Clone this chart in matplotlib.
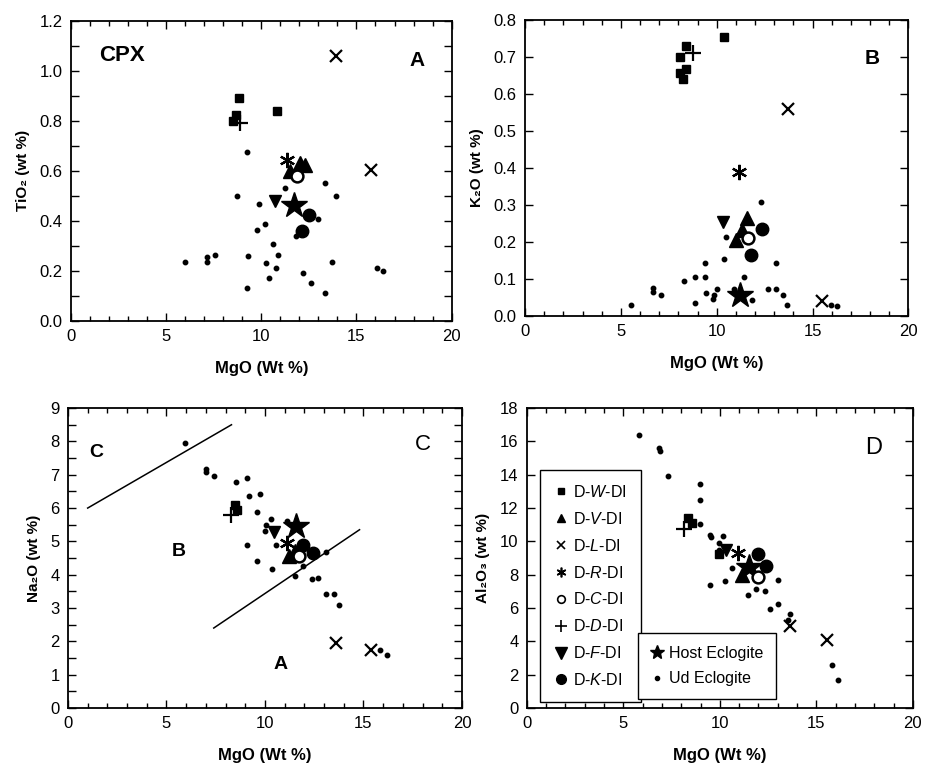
import matplotlib
matplotlib.use('Agg')
import matplotlib.pyplot as plt
from matplotlib.lines import Line2D
from matplotlib.ticker import MultipleLocator

plt.rcParams['font.family'] = ['Liberation Sans', 'DejaVu Sans']
plt.rcParams['mathtext.fontset'] = 'custom'
plt.rcParams['mathtext.rm'] = 'Liberation Sans'
plt.rcParams['mathtext.it'] = 'Liberation Sans:italic'
plt.rcParams['mathtext.bf'] = 'Liberation Sans:bold'

# ---- panel A : TiO2 vs MgO ----
ti_w = [(8.85, 0.89), (10.8, 0.84), (8.65, 0.825), (8.5, 0.80)]
ti_v = [(12.05, 0.63), (12.3, 0.625), (11.5, 0.60)]
ti_l = [(13.9, 1.06), (15.75, 0.605)]
ti_r = [(11.35, 0.645)]
ti_c = [(11.9, 0.58)]
ti_d = [(8.9, 0.79)]
ti_f = [(10.7, 0.48)]
ti_k = [(12.5, 0.425), (12.15, 0.36)]
ti_host = [(11.7, 0.465)]
ti_ud = [(9.27, 0.676), (8.74, 0.50), (9.87, 0.468), (11.26, 0.533), (13.37, 0.553),
         (13.95, 0.50), (12.96, 0.407), (10.2, 0.387), (9.76, 0.362), (11.8, 0.338),
         (10.6, 0.309), (10.87, 0.265), (9.32, 0.259), (10.24, 0.232), (10.78, 0.211),
         (10.43, 0.172), (12.17, 0.19), (12.63, 0.15), (9.27, 0.13), (13.37, 0.109),
         (13.74, 0.236), (5.98, 0.235), (7.12, 0.256), (7.12, 0.235), (7.56, 0.265),
         (16.1, 0.212), (16.41, 0.20)]

# ---- panel B : K2O vs MgO ----
k_w = [(10.4, 0.755), (8.4, 0.73), (8.1, 0.70), (8.4, 0.668), (8.1, 0.657), (8.25, 0.64)]
k_v = [(11.6, 0.265), (11.3, 0.233), (11.0, 0.206)]
k_l = [(13.7, 0.56), (15.5, 0.04)]
k_r = [(11.15, 0.39)]
k_c = [(11.65, 0.21)]
k_d = [(8.75, 0.71)]
k_f = [(10.35, 0.255)]
k_k = [(12.35, 0.235), (11.8, 0.165)]
k_host = [(11.2, 0.056)]
k_ud = [(12.32, 0.307), (10.49, 0.215), (10.4, 0.154), (9.37, 0.143), (8.3, 0.096),
        (8.89, 0.106), (9.37, 0.106), (11.41, 0.106), (13.07, 0.143), (6.67, 0.076),
        (6.67, 0.065), (7.08, 0.056), (5.55, 0.029), (9.46, 0.063), (10.04, 0.074),
        (9.87, 0.056), (9.78, 0.045), (8.85, 0.036), (10.9, 0.074), (11.82, 0.043),
        (12.66, 0.074), (13.07, 0.074), (13.46, 0.056), (13.69, 0.029), (15.95, 0.029),
        (16.27, 0.027)]

# ---- panel C : Na2O vs MgO ----
na_w = [(8.5, 6.1), (8.6, 5.95)]
na_v = [(11.2, 4.57), (11.5, 4.7)]
na_l = [(13.6, 1.95), (15.4, 1.75)]
na_r = [(11.1, 4.96)]
na_c = [(11.75, 4.55)]
na_d = [(8.3, 5.78)]
na_f = [(10.45, 5.28)]
na_k = [(11.95, 4.9), (12.45, 4.65)]
na_host = [(11.6, 5.45)]
na_ud = [(5.95, 7.96), (7.03, 7.16), (7.03, 7.09), (7.42, 6.96), (8.53, 6.79),
         (9.08, 6.9), (9.2, 6.36), (9.75, 6.43), (9.62, 5.89), (10.32, 5.68),
         (10.05, 5.5), (10.0, 5.31), (9.08, 4.89), (9.62, 4.41), (10.37, 4.17),
         (11.53, 3.95), (11.95, 4.27), (12.37, 3.87), (12.7, 3.9), (13.12, 4.67),
         (13.12, 3.41), (13.5, 3.41), (13.75, 3.09), (15.83, 1.75), (16.17, 1.6),
         (11.12, 5.61), (10.58, 4.9)]
# field boundaries (C/B and B/A)
na_line_cb = [(1.0, 6.0), (8.3, 8.5)]
na_line_ba = [(7.4, 2.4), (14.8, 5.35)]

# ---- panel D : Al2O3 vs MgO ----
al_w = [(8.35, 11.4), (8.55, 11.1), (9.95, 9.25)]
al_v = [(11.15, 8.0), (11.5, 8.6)]
al_l = [(13.65, 4.9), (15.55, 4.1)]
al_r = [(10.95, 9.3)]
al_c = [(11.95, 7.85)]
al_d = [(8.15, 10.75)]
al_f = [(10.3, 9.5)]
al_k = [(11.95, 9.25), (12.4, 8.5)]
al_host = [(11.5, 8.45)]
al_ud = [(5.8, 16.36), (6.85, 15.6), (6.9, 15.4), (7.3, 13.92), (8.98, 13.44),
         (8.98, 12.5), (8.98, 11.06), (9.51, 10.4), (9.55, 10.26), (10.14, 10.3),
         (9.97, 9.9), (9.94, 9.5), (9.51, 7.4), (10.28, 7.6), (10.62, 8.4),
         (11.45, 6.8), (11.85, 7.16), (12.36, 7.0), (13.0, 7.66), (12.61, 5.94),
         (13.0, 6.24), (13.64, 5.64), (13.52, 5.3), (15.82, 2.6), (16.14, 1.66)]

keys = ['ud', 'W', 'D', 'F', 'R', 'L', 'V', 'K', 'host', 'C']
legend_labels = {
    'W': r'D-$\mathit{W}$-DI', 'V': r'D-$\mathit{V}$-DI', 'L': r'D-$\mathit{L}$-DI',
    'R': r'D-$\mathit{R}$-DI', 'C': r'D-$\mathit{C}$-DI', 'D': r'D-$\mathit{D}$-DI',
    'F': r'D-$\mathit{F}$-DI', 'K': r'D-$\mathit{K}$-DI',
    'host': 'Host Eclogite', 'ud': 'Ud Eclogite',
}

styles = {
    'W': dict(marker='s', ms=5.5),
    'V': dict(marker='^', ms=10),
    'L': dict(marker='x', ms=9, mew=1.6),
    'R': dict(marker=(6, 2, 0), ms=11, mew=1.6),
    'C': dict(marker='o', ms=8.5, mfc='white', mew=1.8),
    'D': dict(marker='+', ms=11, mew=1.6),
    'F': dict(marker='v', ms=9),
    'K': dict(marker='o', ms=9),
    'host': dict(marker='*', ms=19),
    'ud': dict(marker='o', ms=3.2),
}
leg_sizes = {'W': 4.5, 'V': 6, 'L': 5.5, 'R': 7, 'C': 5.5, 'D': 8, 'F': 9,
             'K': 7, 'host': 10, 'ud': 3}


def draw_series(ax, data):
    for key in keys:
        pts = data[key]
        xs = [p[0] for p in pts]
        ys = [p[1] for p in pts]
        st = dict(styles[key])
        st.setdefault('mfc', 'black')
        ax.plot(xs, ys, linestyle='none', color='black', mec='black', **st)


def style_axes(ax, ymax, ystep, yminor, ylabel, fmt):
    ax.set_xlim(0, 20)
    ax.set_ylim(0, ymax)
    ax.xaxis.set_major_locator(MultipleLocator(5))
    ax.xaxis.set_minor_locator(MultipleLocator(1))
    ax.yaxis.set_major_locator(MultipleLocator(ystep))
    if yminor:
        ax.yaxis.set_minor_locator(MultipleLocator(yminor))
    ax.yaxis.set_major_formatter(plt.FormatStrFormatter(fmt))
    ax.tick_params(which='both', direction='in', top=True, right=True,
                   labelsize=12, width=1.0, pad=6)
    ax.tick_params(which='major', length=6)
    ax.tick_params(axis='x', which='minor', length=3.5)
    ax.tick_params(axis='y', which='minor', length=6)
    for sp in ax.spines.values():
        sp.set_linewidth(1.3)
    ax.set_xlabel('MgO (Wt %)', fontsize=12, fontweight='bold', labelpad=12)
    ax.set_ylabel(ylabel, fontsize=11, fontweight='bold', labelpad=7)


fig = plt.figure(figsize=(9.26, 7.71), dpi=100)
ax_a = fig.add_axes([0.0767, 0.584, 0.411, 0.389])
ax_b = fig.add_axes([0.567, 0.590, 0.414, 0.384])
ax_c = fig.add_axes([0.0734, 0.0817, 0.4255, 0.389])
ax_d = fig.add_axes([0.569, 0.0817, 0.4168, 0.389])

# panel A
draw_series(ax_a, dict(W=ti_w, V=ti_v, L=ti_l, R=ti_r, C=ti_c, D=ti_d, F=ti_f,
                       K=ti_k, host=ti_host, ud=ti_ud))
style_axes(ax_a, 1.2, 0.2, 0.1, 'TiO₂ (wt %)', '%.1f')
ax_a.text(1.5, 1.06, 'CPX', fontsize=16, fontweight='bold', va='center')
ax_a.text(18.2, 1.04, 'A', fontsize=15, fontweight='bold', va='center', ha='center')

# panel B
draw_series(ax_b, dict(W=k_w, V=k_v, L=k_l, R=k_r, C=k_c, D=k_d, F=k_f,
                       K=k_k, host=k_host, ud=k_ud))
style_axes(ax_b, 0.8, 0.1, None, 'K₂O (wt %)', '%.1f')
ax_b.text(18.1, 0.695, 'B', fontsize=15, fontweight='bold', va='center', ha='center')

# panel C
for seg in (na_line_cb, na_line_ba):
    ax_c.plot([p[0] for p in seg], [p[1] for p in seg], color='black', lw=1.1)
draw_series(ax_c, dict(W=na_w, V=na_v, L=na_l, R=na_r, C=na_c, D=na_d, F=na_f,
                       K=na_k, host=na_host, ud=na_ud))
style_axes(ax_c, 9, 1, 0.5, 'Na₂O (wt %)', '%d')
ax_c.text(1.45, 7.66, 'C', fontsize=14, fontweight='bold', va='center', ha='center')
ax_c.text(5.6, 4.7, 'B', fontsize=14, fontweight='bold', va='center', ha='center')
ax_c.text(10.8, 1.3, 'A', fontsize=14, fontweight='bold', va='center', ha='center')
ax_c.text(18.0, 7.9, 'C', fontsize=16, va='center', ha='center')

# panel D
draw_series(ax_d, dict(W=al_w, V=al_v, L=al_l, R=al_r, C=al_c, D=al_d, F=al_f,
                       K=al_k, host=al_host, ud=al_ud))
style_axes(ax_d, 18, 2, None, 'Al₂O₃ (wt %)', '%d')
ax_d.text(17.95, 15.6, 'D', fontsize=17, va='center', ha='center')


def proxy(key):
    st = dict(styles[key])
    st['ms'] = leg_sizes[key]
    st.setdefault('mfc', 'black')
    if 'mew' in st:
        st['mew'] = 1.2
    return Line2D([], [], linestyle='none', color='black', mec='black', **st)


inc_keys = ['W', 'V', 'L', 'R', 'C', 'D', 'F', 'K']
leg1 = ax_d.legend([proxy(k) for k in inc_keys], [legend_labels[k] for k in inc_keys],
                   loc='upper left', bbox_to_anchor=(0.034, 0.795), fontsize=11.5,
                   frameon=True, fancybox=False, framealpha=1, edgecolor='black',
                   borderpad=0.9, labelspacing=0.68, handlelength=0.8,
                   handletextpad=0.35, borderaxespad=0)
leg1.get_frame().set_linewidth(1.0)
ax_d.add_artist(leg1)
host_keys = ['host', 'ud']
leg2 = ax_d.legend([proxy(k) for k in host_keys], [legend_labels[k] for k in host_keys],
                   loc='lower left', bbox_to_anchor=(0.2875, 0.03), fontsize=11.5,
                   frameon=True, fancybox=False, framealpha=1, edgecolor='black',
                   borderpad=0.8, labelspacing=0.65, handlelength=0.8,
                   handletextpad=0.35, borderaxespad=0)
leg2.get_frame().set_linewidth(1.0)

fig.savefig('out.png', dpi=100, facecolor='white')
